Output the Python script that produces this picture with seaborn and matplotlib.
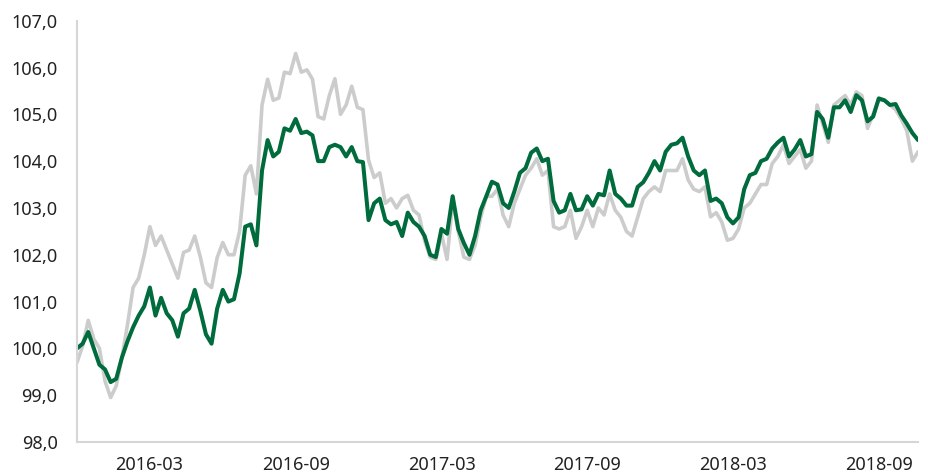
import matplotlib
matplotlib.use("Agg")
import matplotlib.pyplot as plt
import matplotlib.transforms as mtransforms
from matplotlib.ticker import FuncFormatter
import pandas as pd
import seaborn as sns

# Style
sns.set_style("white")
plt.rcParams["font.family"] = ["Noto Sans", "DejaVu Sans"]

# weekly values
start_date = "2015-11-13"

green_values = [
    100.0, 100.1, 100.35, 100.0, 99.65, 99.55, 99.28, 99.35, 99.8, 100.15,
    100.45, 100.7, 100.9, 101.3, 100.7, 101.08, 100.75, 100.6, 100.25, 100.75,
    100.85, 101.25, 100.8, 100.3, 100.1, 100.85, 101.25, 101.0, 101.05, 101.6,
    102.6, 102.65, 102.2, 103.8, 104.45, 104.1, 104.2, 104.7, 104.65, 104.9,
    104.6, 104.63, 104.55, 104.0, 104.0, 104.3, 104.35, 104.3, 104.1, 104.3,
    104.0, 103.98, 102.74, 103.1, 103.2, 102.74, 102.65, 102.7, 102.4, 102.9,
    102.7, 102.6, 102.4, 102.0, 101.95, 102.55, 102.45, 103.25, 102.55, 102.25,
    102.0, 102.4, 102.95, 103.25, 103.56, 103.5, 103.1, 103.0, 103.35, 103.75,
    103.85, 104.18, 104.27, 104.0, 104.05, 103.15, 102.9, 102.95, 103.3, 102.95,
    102.97, 103.25, 103.05, 103.3, 103.27, 103.8, 103.3, 103.2, 103.05, 103.05,
    103.45, 103.55, 103.75, 104.0, 103.8, 104.2, 104.35, 104.38, 104.5, 104.1,
    103.8, 103.7, 103.8, 103.15, 103.2, 103.1, 102.8, 102.67, 102.8, 103.4,
    103.7, 103.75, 104.0, 104.05, 104.27, 104.4, 104.5, 104.1, 104.25, 104.45,
    104.1, 104.15, 105.05, 104.9, 104.5, 105.15, 105.15, 105.3, 105.05, 105.41,
    105.3, 104.85, 104.95, 105.34, 105.3, 105.2, 105.22, 104.98, 104.8, 104.6,
    104.45,
]

gray_values = [
    99.7, 100.05, 100.6, 100.2, 100.0, 99.3, 98.95, 99.2, 99.8, 100.5,
    101.3, 101.5, 102.0, 102.6, 102.2, 102.4, 102.1, 101.8, 101.5, 102.05,
    102.1, 102.4, 101.95, 101.4, 101.3, 101.94, 102.26, 102.0, 102.0, 102.5,
    103.7, 103.9, 103.3, 105.2, 105.75, 105.3, 105.35, 105.9, 105.87, 106.3,
    105.9, 105.95, 105.75, 104.95, 104.9, 105.4, 105.76, 105.0, 105.2, 105.6,
    105.15, 105.1, 104.02, 103.65, 103.75, 103.1, 103.2, 103.0, 103.2, 103.27,
    102.95, 102.85, 102.3, 101.95, 101.9, 102.45, 101.9, 103.15, 102.5, 101.95,
    101.9, 102.2, 102.8, 103.25, 103.25, 103.4, 102.85, 102.6, 103.1, 103.4,
    103.7, 103.85, 104.05, 103.7, 103.8, 102.6, 102.55, 102.6, 102.95, 102.35,
    102.6, 102.95, 102.6, 103.0, 102.85, 103.3, 102.95, 102.8, 102.5, 102.4,
    102.8, 103.2, 103.35, 103.45, 103.35, 103.8, 103.8, 103.8, 104.05, 103.6,
    103.4, 103.35, 103.45, 102.81, 102.9, 102.7, 102.31, 102.35, 102.55, 103.0,
    103.1, 103.3, 103.5, 103.5, 103.95, 104.1, 104.35, 103.95, 104.1, 104.25,
    103.85, 104.0, 105.2, 104.8, 104.4, 105.2, 105.3, 105.4, 105.2, 105.48,
    105.4, 104.7, 105.0, 105.3, 105.3, 105.2, 105.1, 104.9, 104.65, 104.0,
    104.2,
]

tick_dates = ["2015-11-13", "2016-03-31", "2016-09-30", "2017-03-31",
              "2017-09-29", "2018-03-30", "2018-09-28"]
tick_labels = ["", "2016-03", "2016-09", "2017-03", "2017-09", "2018-03", "2018-09"]
y_ticks = [98, 99, 100, 101, 102, 103, 104, 105, 106, 107]

GREEN = "#006b3c"
GRAY = "#cccccc"
AXIS = "#d6d6d6"

dates = pd.date_range(start_date, periods=len(green_values), freq="7D")
df = pd.DataFrame({"date": dates, "green": green_values, "gray": gray_values})

fig = plt.figure(figsize=(9.29, 4.73), dpi=100)
ax = fig.add_axes([77 / 929, 1 - 442 / 473, (918 - 77) / 929, (442 - 20.7) / 473])

sns.lineplot(data=df, x="date", y="gray", color=GRAY, linewidth=2.6, ax=ax)
sns.lineplot(data=df, x="date", y="green", color=GREEN, linewidth=2.9, ax=ax)
for line in ax.lines:
    line.set_solid_joinstyle("round")

ax.set_xlim(dates[0], dates[-1])
ax.set_ylim(98, 107)
ax.set_xlabel("")
ax.set_ylabel("")

ax.set_yticks(y_ticks)
ax.yaxis.set_major_formatter(FuncFormatter(lambda v, p: f"{v:.1f}".replace(".", ",")))
ax.set_xticks(pd.to_datetime(tick_dates))
ax.set_xticklabels(tick_labels)

for side in ["top", "right"]:
    ax.spines[side].set_visible(False)
for side in ["left", "bottom"]:
    ax.spines[side].set_color(AXIS)
    ax.spines[side].set_linewidth(1.5)

ax.tick_params(axis="y", length=10, width=1.5, color=AXIS, pad=4,
               labelsize=13, labelcolor="#222222")
ax.tick_params(axis="x", length=9, width=1.5, color=AXIS, pad=1,
               labelsize=13, labelcolor="#222222")

offset = mtransforms.ScaledTranslation(-5 / 100, 0, fig.dpi_scale_trans)
for lbl in ax.get_xticklabels():
    lbl.set_ha("right")
    lbl.set_transform(lbl.get_transform() + offset)

fig.savefig("out.png", dpi=100)
